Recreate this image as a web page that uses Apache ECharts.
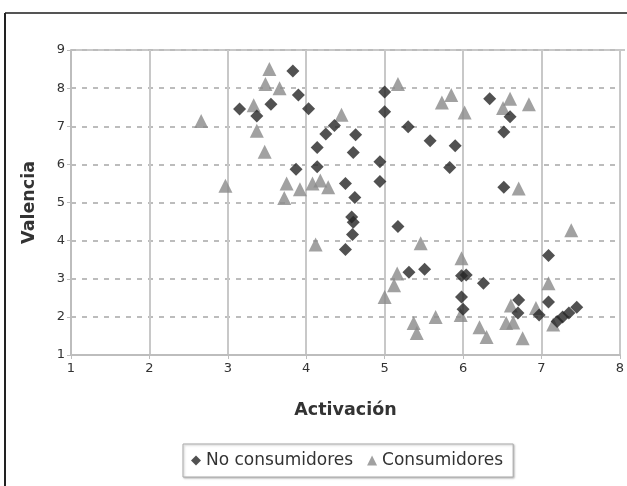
<!DOCTYPE html>
<html><head><meta charset="utf-8">
<script src="https://cdn.jsdelivr.net/npm/echarts@6/dist/echarts.min.js"></script>
<style>html,body{margin:0;padding:0;background:#fff}#c{width:627px;height:486px}</style>
</head><body><div id="c"></div>
<script>
const xTicks = [1,2,3,4,5,6,7,8];
const yTicks = [1,2,3,4,5,6,7,8,9];
const noConsX = [3.15,3.37,3.55,3.83,3.9,4.03,3.87,4.14,4.14,4.25,4.36,4.63,4.6,4.5,4.62,4.58,4.6,4.59,4.5,4.94,4.94,5.0,5.0,5.3,5.58,5.9,5.83,6.34,6.6,6.52,6.52,5.17,5.31,5.51,5.98,6.04,6.26,5.98,6.0,6.71,6.7,6.97,7.09,7.09,7.2,7.27,7.35,7.45];
const noConsY = [7.45,7.27,7.58,8.45,7.82,7.46,5.87,5.94,6.44,6.8,7.02,6.78,6.31,5.5,5.13,4.62,4.48,4.16,3.77,6.07,5.55,7.9,7.38,6.99,6.62,6.49,5.92,7.72,7.25,6.85,5.4,4.37,3.17,3.25,3.08,3.1,2.88,2.52,2.2,2.44,2.1,2.05,2.39,3.61,1.88,2.0,2.1,2.25];
const consX = [2.66,2.97,3.33,3.37,3.47,3.48,3.53,3.66,3.75,3.72,3.92,4.08,4.18,4.28,4.12,4.45,5.17,5.73,5.85,6.02,6.6,6.51,6.84,6.71,5.46,5.16,5.12,5.0,5.37,5.41,5.65,5.98,5.97,6.21,6.3,7.38,7.09,6.61,6.55,6.64,6.76,6.93,7.15];
const consY = [7.14,5.44,7.55,6.88,6.33,8.11,8.5,8.0,5.5,5.12,5.35,5.5,5.58,5.4,3.9,7.3,8.11,7.62,7.82,7.36,7.72,7.48,7.58,5.37,3.93,3.14,2.83,2.52,1.84,1.58,2.0,3.54,2.05,1.73,1.47,4.27,2.88,2.3,1.84,1.85,1.44,2.23,1.8];
const seriesNames = ['No consumidores','Consumidores'];

const pair = (xs, ys) => xs.map((x,i)=>[x, ys[i]]);
const chart = echarts.init(document.getElementById('c'));
const font = 'DejaVu Sans, Verdana, sans-serif';
chart.setOption({
  animation:false,
  backgroundColor:'#fff',
  grid:{left:71,right:2,top:50,bottom:131,containLabel:false,show:false},
  xAxis:{type:'value',min:xTicks[0],max:xTicks[xTicks.length-1],interval:1,
    name:'Activación',nameLocation:'middle',nameGap:46,
    nameTextStyle:{fontFamily:font,fontSize:17.5,fontWeight:'bold',color:'#333'},
    axisLine:{show:true,lineStyle:{color:'#bdbdbd',width:2}},
    axisTick:{show:true,length:4,lineStyle:{color:'#bdbdbd'}},
    axisLabel:{fontFamily:font,fontSize:13,color:'#333',margin:7},
    splitLine:{show:true,lineStyle:{color:'#c8c8c8',width:2}}},
  yAxis:{type:'value',min:yTicks[0],max:yTicks[yTicks.length-1],interval:1,
    name:'Valencia',nameLocation:'middle',nameGap:33,
    nameTextStyle:{fontFamily:font,fontSize:17.5,fontWeight:'bold',color:'#333'},
    axisLine:{show:true,lineStyle:{color:'#bdbdbd',width:2}},
    axisTick:{show:true,length:4,lineStyle:{color:'#bdbdbd'}},
    axisLabel:{fontFamily:font,fontSize:13,color:'#333',margin:6},
    splitLine:{show:true,lineStyle:{color:'#bcbcbc',width:2,type:[5,6]}}},
  legend:{left:183,top:444,padding:[8,10,8,8],itemGap:14,
    borderColor:'#aaa',borderWidth:1,itemWidth:10,itemHeight:10,
    shadowColor:'rgba(0,0,0,0.25)',shadowBlur:2,shadowOffsetX:1,shadowOffsetY:1,backgroundColor:'#fff',
    textStyle:{fontFamily:font,fontSize:17,color:'#333'},
    data:[{name:seriesNames[0],icon:'diamond'},{name:seriesNames[1],icon:'triangle'}]},
  graphic:[
    {type:'line',shape:{x1:5,y1:13,x2:627,y2:13},style:{stroke:'#555',lineWidth:2}},
    {type:'line',shape:{x1:5,y1:13,x2:5,y2:486},style:{stroke:'#222',lineWidth:2}},
    {type:'line',shape:{x1:71,y1:50,x2:625,y2:50},style:{stroke:'#c8c8c8',lineWidth:2}}
  ],
  series:[
    {name:seriesNames[0],type:'scatter',symbol:'diamond',symbolSize:13,z:3,
      itemStyle:{color:'#262626'},data:pair(noConsX,noConsY)},
    {name:seriesNames[1],type:'scatter',symbol:'triangle',symbolSize:14,z:2,
      itemStyle:{color:'#8a8a8a'},data:pair(consX,consY)}
  ]
});
</script></body></html>
